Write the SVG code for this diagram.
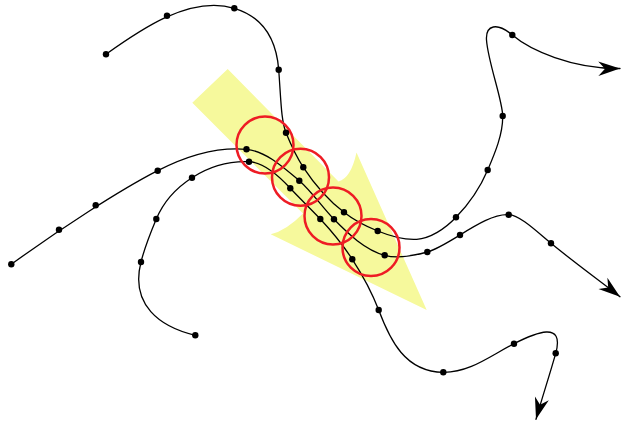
<svg xmlns="http://www.w3.org/2000/svg" width="621" height="424" viewBox="0 0 621 424">
<defs>
<style>
.ln{fill:none;stroke:#000;stroke-width:1.3;stroke-linecap:round;stroke-linejoin:round}
.arr{marker-end:url(#stealth)}
.dot{fill:#000}
.ring{fill:none;stroke:#ee1c24;stroke-width:2.5}
.hl{fill:#f6f99c;stroke:none}
</style>
<marker id="stealth" viewBox="-23 -8 24 16" refX="0" refY="0" markerWidth="24" markerHeight="16" markerUnits="userSpaceOnUse" orient="auto">
<path d="M0,0 L-21.7,-7.2 L-15,0 L-21.7,7.2 Z" fill="#000"/>
</marker>
</defs>
<rect width="621" height="424" fill="#fff"/>
<g id="highlight">
<path class="hl" d="M227.7,69 L338.5,181.5 Q351,178 356.5,152.5 L426.7,310 L270.7,234.3 Q286.6,230.2 303,213.4 L192.3,102.7 Z"/>
</g>
<g id="connectors">
<path id="c1" class="ln arr" d="M106,54.3 C140,30 190,-5 234.3,8.3 C260,16 276,35 278.7,69.7 C281,100 281,120 286,132.7 C291,145 296,156 303.3,167.3 C313,182 328,200 344,212.3 C355,221 365,226 377.7,231 C395,238 405,240 416.7,239.3 C430,238.5 445,229 456,217.3 C468,205 480,188 487.7,170 C495,153 503,134 502.7,116 C502.5,100 488,62 486.5,40 C485.5,25 497,22 512.3,35 C530,50 572,69 620,68.5"/>
<path id="c2" class="ln arr" d="M11.3,264.3 C60,229 120,190 157.7,170.7 C190,154 220,147 246.5,149.3 C265,151 282,166 299.3,180.7 C311,190.6 322,207 334,219.3 C348,233.6 365,250 384.7,255.3 C398,258.9 413,256 427.3,252 C450,245.6 485,213 508.7,214.7 C520,215.5 535,230 551,243.3 C575,263 600,281 620,296.7"/>
<path id="c3" class="ln arr" d="M195.3,335.3 C160,327 130,305 141,262 C144,250 150,234 156.3,219 C163,203 176,188 192,177.7 C210,166 230,161 249,161.7 C264,162.3 278,175 290.3,188.3 C300,198.8 310,208 320.3,219 C332,231.5 343,245 352.3,259.3 C362,274.2 371,290 378.7,310 C390,340 405,372 443.3,372.3 C470,372.5 490,356 514,343.7 C535,333 565,320 555.7,353.3 C550,373.7 542,398 536,419.3"/>
</g>
<g id="rings">
<circle class="ring" cx="265" cy="145" r="28.5"/>
<circle class="ring" cx="300.5" cy="177.3" r="28.5"/>
<circle class="ring" cx="333" cy="216" r="28.5"/>
<circle class="ring" cx="371" cy="247.5" r="28.5"/>
</g>
<g id="points">
<g id="p1">
<circle class="dot" cx="106" cy="54.3" r="3.2"/>
<circle class="dot" cx="167" cy="15.7" r="3.2"/>
<circle class="dot" cx="234.3" cy="8.3" r="3.2"/>
<circle class="dot" cx="278.7" cy="69.7" r="3.2"/>
<circle class="dot" cx="286" cy="132.7" r="3.2"/>
<circle class="dot" cx="303.3" cy="167.3" r="3.2"/>
<circle class="dot" cx="344" cy="212.3" r="3.2"/>
<circle class="dot" cx="377.7" cy="231" r="3.2"/>
<circle class="dot" cx="456" cy="217.3" r="3.2"/>
<circle class="dot" cx="487.7" cy="170" r="3.2"/>
<circle class="dot" cx="502.7" cy="116" r="3.2"/>
<circle class="dot" cx="512.3" cy="35" r="3.2"/>
</g>
<g id="p2">
<circle class="dot" cx="11.3" cy="264.3" r="3.2"/>
<circle class="dot" cx="59" cy="229.7" r="3.2"/>
<circle class="dot" cx="95.7" cy="205.3" r="3.2"/>
<circle class="dot" cx="157.7" cy="170.7" r="3.2"/>
<circle class="dot" cx="246.5" cy="149.3" r="3.2"/>
<circle class="dot" cx="299.3" cy="180.7" r="3.2"/>
<circle class="dot" cx="334" cy="219.3" r="3.2"/>
<circle class="dot" cx="384.7" cy="255.3" r="3.2"/>
<circle class="dot" cx="427.3" cy="252" r="3.2"/>
<circle class="dot" cx="460" cy="235" r="3.2"/>
<circle class="dot" cx="508.7" cy="214.7" r="3.2"/>
<circle class="dot" cx="551" cy="243.3" r="3.2"/>
</g>
<g id="p3">
<circle class="dot" cx="195.3" cy="335.3" r="3.2"/>
<circle class="dot" cx="141" cy="262" r="3.2"/>
<circle class="dot" cx="156.3" cy="219" r="3.2"/>
<circle class="dot" cx="192" cy="177.7" r="3.2"/>
<circle class="dot" cx="249" cy="161.7" r="3.2"/>
<circle class="dot" cx="290.3" cy="188.3" r="3.2"/>
<circle class="dot" cx="320.3" cy="219" r="3.2"/>
<circle class="dot" cx="352.3" cy="259.3" r="3.2"/>
<circle class="dot" cx="378.7" cy="310" r="3.2"/>
<circle class="dot" cx="443.3" cy="372.3" r="3.2"/>
<circle class="dot" cx="514" cy="343.7" r="3.2"/>
<circle class="dot" cx="555.7" cy="353.3" r="3.2"/>
</g>
</g>
</svg>
